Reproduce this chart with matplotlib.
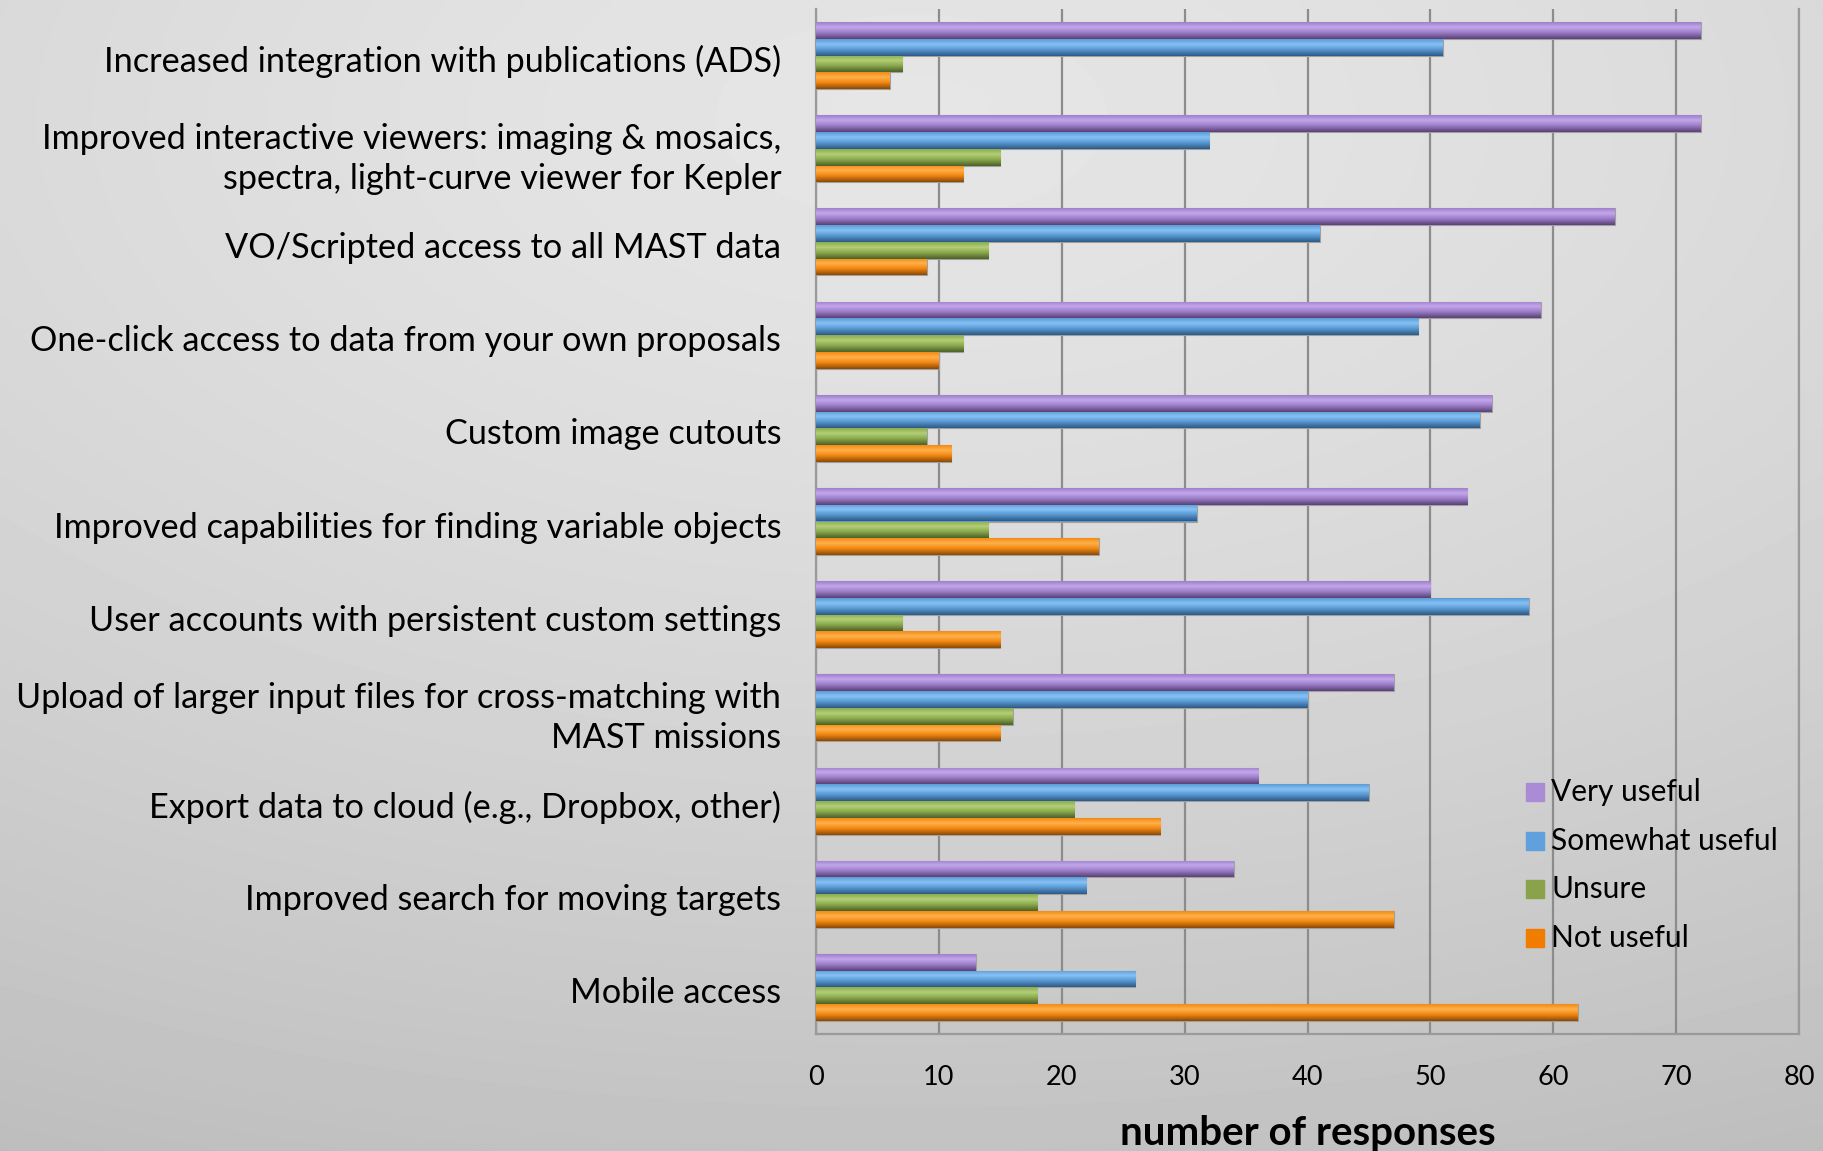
# MAST survey: usefulness of proposed features (horizontal grouped bars)
import numpy as np
import matplotlib.pyplot as plt
import matplotlib.transforms as mtransforms
from matplotlib.colors import LinearSegmentedColormap
from matplotlib.patches import Rectangle

plt.rcParams['font.family'] = ['Lato', 'DejaVu Sans']

features = ["Increased integration with publications (ADS)",
            "Improved interactive viewers: imaging & mosaics,\nspectra, light-curve viewer for Kepler",
            "VO/Scripted access to all MAST data",
            "One-click access to data from your own proposals",
            "Custom image cutouts",
            "Improved capabilities for finding variable objects",
            "User accounts with persistent custom settings",
            "Upload of larger input files for cross-matching with\nMAST missions",
            "Export data to cloud (e.g., Dropbox, other)",
            "Improved search for moving targets",
            "Mobile access"]
series = ["Very useful", "Somewhat useful", "Unsure", "Not useful"]
very_useful     = [72, 72, 65, 59, 55, 53, 50, 47, 36, 34, 13]
somewhat_useful = [51, 32, 41, 49, 54, 31, 58, 40, 45, 22, 26]
unsure          = [7, 15, 14, 12, 9, 14, 7, 16, 21, 18, 18]
not_useful      = [6, 12, 9, 10, 11, 23, 15, 15, 28, 47, 62]
xticks = [0, 10, 20, 30, 40, 50, 60, 70, 80]

# light / mid / dark shades for the cylinder-ish bar look
shades = [("#c3a6ea", "#9f80cc", "#5a4176"),
          ("#86c2f5", "#5b9bd5", "#2d5a85"),
          ("#b2cf78", "#8dab4e", "#4d6128"),
          ("#ffb04a", "#f48a14", "#8c4a06")]
legend_cols = ["#a98bd6", "#5fa0dd", "#8aa24a", "#f07c00"]

W, H = 1823, 1151
fig = plt.figure(figsize=(W / 100, H / 100), dpi=100)

# background: soft grey glow
bg = fig.add_axes([0, 0, 1, 1], zorder=-10)
yy, xx = np.mgrid[0:1:200j, 0:1:320j]
r = np.sqrt(((xx - 0.5) / 1.2) ** 2 + ((yy - 0.1) / 1.0) ** 2)
bgimg = 0.9 - 0.16 * r ** 1.4
bg.imshow(bgimg, cmap="gray", vmin=0, vmax=1, aspect="auto", extent=(0, 1, 1, 0),
          interpolation="bicubic")
bg.axis("off")

ax = fig.add_axes([816 / W, 1 - 1034 / H, (1799 - 816) / W, (1034 - 9) / H])
ax.patch.set_alpha(0)

n = len(features)
y = np.arange(n)
h = 0.18
grad = np.linspace(0, 1, 64).reshape(-1, 1)
for k, vals in enumerate([very_useful, somewhat_useful, unsure, not_useful]):
    lt, md, dk = shades[k]
    cmap = LinearSegmentedColormap.from_list("c%d" % k, [(0, md), (0.3, lt), (0.6, md), (1, dk)])
    yk = y + (k - 1.5) * h
    bars = ax.barh(yk, vals, height=h, color=md, edgecolor="#a0a0a0", linewidth=0.8, zorder=3)
    for b, v, yc in zip(bars, vals, yk):
        im = ax.imshow(grad, cmap=cmap, aspect="auto", zorder=3.5,
                       extent=(0, v, yc + h / 2, yc - h / 2))
        im.set_clip_path(b)

ax.set_xlim(0, 80)
ax.set_ylim(n - 0.5, -0.5)
ax.set_xticks(xticks)
ax.set_xticklabels([str(t) for t in xticks], fontsize=19.5)
ax.set_yticks(y)
ax.set_yticklabels(features, fontsize=24.7, linespacing=1.32, ha="right")
ax.tick_params(axis="y", length=0, pad=25)
ax.tick_params(axis="x", length=0, pad=22)
# nudge category labels down a touch
shift = mtransforms.ScaledTranslation(0, -3 / 100, fig.dpi_scale_trans)
for lab in ax.get_yticklabels():
    lab.set_transform(lab.get_transform() + shift)
ax.grid(axis="x", color="#8c8c8c", linewidth=1.6, zorder=1)
ax.spines["top"].set_visible(False)
for s in ["left", "right", "bottom"]:
    ax.spines[s].set_color("#9a9a9a")
    ax.spines[s].set_linewidth(1.6)
ax.set_xlabel("number of responses", fontsize=29, fontweight="bold", labelpad=18)

# legend, drawn by hand in figure pixels
for k, name in enumerate(series):
    yc = 792 + k * 48.7
    fig.add_artist(Rectangle((1526 / W, 1 - (yc + 9) / H), 18 / W, 18 / H,
                             transform=fig.transFigure, color=legend_cols[k]))
    fig.text(1551 / W, 1 - yc / H, name, fontsize=21.5, va="center", ha="left")

fig.savefig("out.png", dpi=100)
